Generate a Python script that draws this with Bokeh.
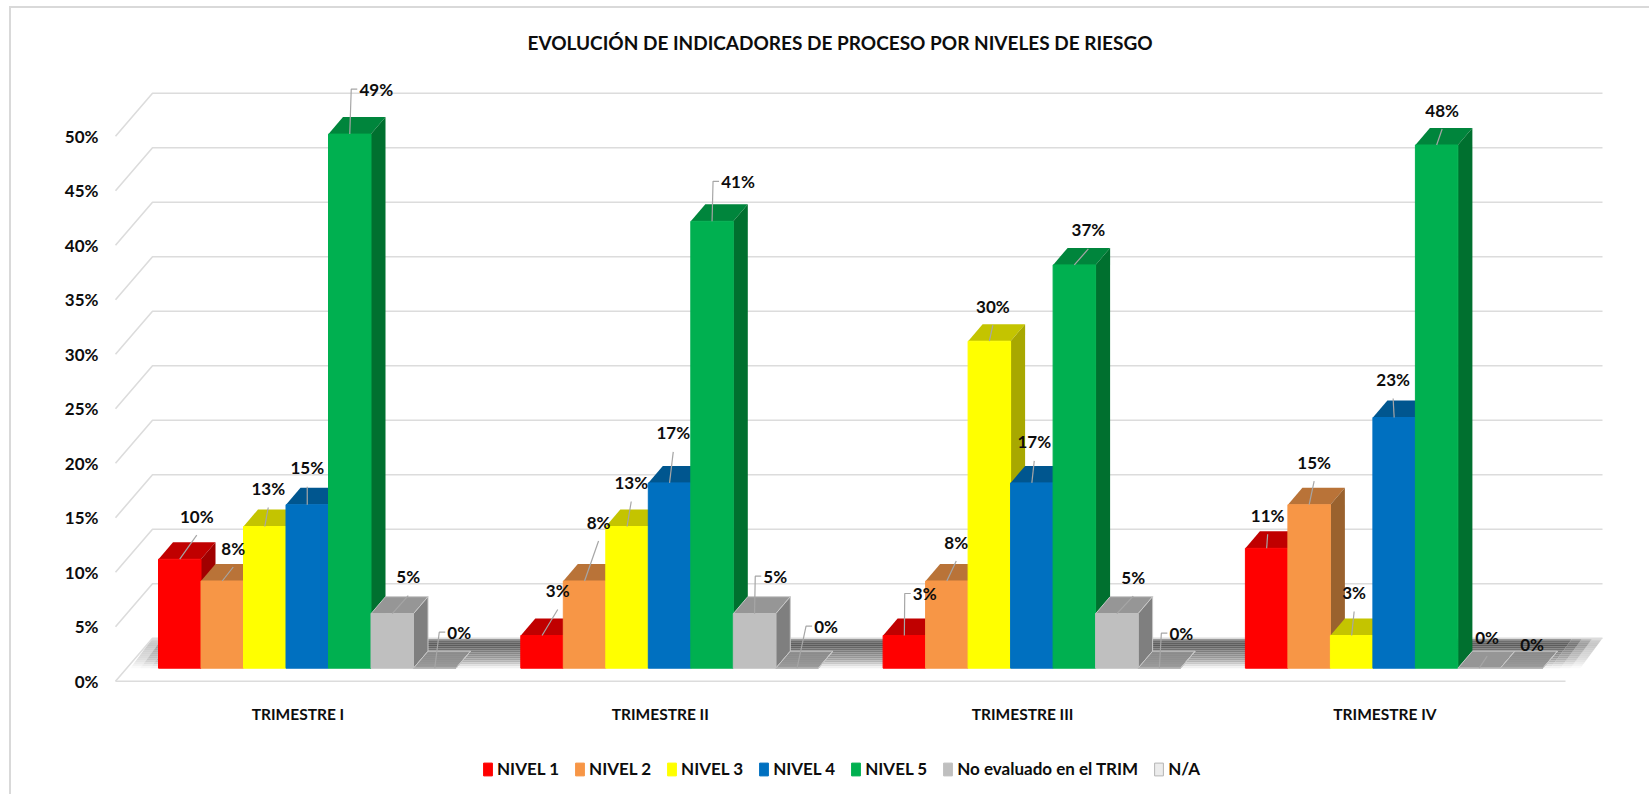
from bokeh.plotting import figure
from bokeh.embed import file_html
from bokeh.resources import INLINE
from bokeh.models import (ColumnDataSource, FixedTicker, Legend, LegendItem, Title)
from bokeh.core.properties import value

# ---- data ----
TRIMESTRES = ["TRIMESTRE I", "TRIMESTRE II", "TRIMESTRE III", "TRIMESTRE IV"]
NIVEL_1 = [10, 3, 3, 11]
NIVEL_2 = [8, 8, 8, 15]
NIVEL_3 = [13, 13, 30, 3]
NIVEL_4 = [15, 17, 17, 23]
NIVEL_5 = [49, 41, 37, 48]
NO_EVALUADO = [5, 5, 5, 0]
NA = [0, 0, 0, 0]
SERIES_NAMES = ["NIVEL 1", "NIVEL 2", "NIVEL 3", "NIVEL 4", "NIVEL 5", "No evaluado en el TRIM", "N/A"]
SERIES = [NIVEL_1, NIVEL_2, NIVEL_3, NIVEL_4, NIVEL_5, NO_EVALUADO, NA]
Y_TICKS = [0, 5, 10, 15, 20, 25, 30, 35, 40, 45, 50]
TITLE = "EVOLUCIÓN DE INDICADORES DE PROCESO POR NIVELES DE RIESGO"

# ---- styles ----
FRONT = ["#ff0000", "#f79646", "#ffff00", "#0070c0", "#00b050", "#bfbfbf", "#ececec"]
TOPC = ["#c00000", "#b97338", "#c4c400", "#00568f", "#00853c", "#969696", "#8c8c8c"]
SIDE = ["#a00000", "#9a622e", "#a8a800", "#004a7c", "#00702f", "#7f7f7f", "#7f7f7f"]
FONT = "Lato"
GRID = "#dcdcdc"
LEADER = "#a6a6a6"

# pixel scale of the chart: one group = PX_X pixels, one percent = PX_Y pixels
PX_X, PX_Y = 362.3, 10.9
BAR_W = 42.5 / PX_X
DEPTH_X, DEPTH_Y = 14.5 / PX_X, 17 / PX_Y
BASE = 13 / PX_Y
WALL_X, WALL_Y = 37 / PX_X, 43 / PX_Y
LEFT_FRONT = -43 / PX_X
RIGHT_BACK = 1602 / PX_X - 158 / PX_X
RIGHT_FRONT = 1565 / PX_X - 158 / PX_X

# label offsets in pixels from the bar's top-front centre, per group
LABEL_OFFSETS = [
    [(17, -43), (11, -33), (3.5, -38), (0, -37), (26.5, -45), (16, -37), (24.5, -36)],
    [(15.7, -45), (14, -59), (4.2, -44), (3.7, -50), (26, -40), (20.7, -37.5), (29, -42)],
    [(20.4, -42), (9.4, -39), (3.5, -35), (2.4, -41), (14, -35), (16.4, -36.5), (22, -35)],
    [(1, -33), (5, -42.5), (2.5, -43), (-1, -38), (5.5, -35), (8, -31), (10.5, -24)],
]
ELBOW = {(0, 4), (0, 6), (1, 4), (1, 5), (1, 6), (2, 0), (2, 6)}
NO_LEADER = {(3, 6)}

# figure margin plus a 2px CSS edge (left and top only, as in the chart's frame)
M_L, M_T = 9, 6
C_L, C_T = M_L + 2, M_T + 2
W, H = 1640, 788
FRAME_L, FRAME_T, FRAME_B = 107, 60, 788
Y_ZERO = 680.7

p = figure(width=W, height=H, output_backend="svg", toolbar_location=None,
           x_range=((FRAME_L - 158) / PX_X, (C_L + W - 158) / PX_X),
           y_range=((Y_ZERO - FRAME_B) / PX_Y, (Y_ZERO - FRAME_T) / PX_Y),
           min_border_left=FRAME_L - C_L, min_border_right=0, min_border_top=FRAME_T - C_T,
           min_border_bottom=C_T + H - FRAME_B,
           margin=(M_T, 0, 0, M_L),
           styles={"border-left": "2px solid #d9d9d9", "border-top": "2px solid #d9d9d9"},
           background_fill_color="white", border_fill_color="white", outline_line_color=None)
p.grid.visible = False

# axes
p.yaxis.ticker = FixedTicker(ticks=Y_TICKS)
p.yaxis.major_label_overrides = {t: f"{t}%" for t in Y_TICKS}
p.yaxis.axis_line_color = None
p.yaxis.major_tick_line_color = None
p.yaxis.minor_tick_line_color = None
p.yaxis.major_label_standoff = 3
p.yaxis.major_label_text_font = FONT
p.yaxis.major_label_text_font_style = "bold"
p.yaxis.major_label_text_font_size = "17px"
p.yaxis.major_label_text_color = "#0d0d0d"

tick_pos = [g + 0.385 for g in range(len(TRIMESTRES))]
p.xaxis.ticker = FixedTicker(ticks=tick_pos)
p.xaxis.major_label_overrides = dict(zip(tick_pos, TRIMESTRES))
p.xaxis.axis_line_color = None
p.xaxis.major_tick_line_color = None
p.xaxis.minor_tick_line_color = None
p.xaxis.major_label_standoff = -90
p.xaxis.major_label_text_font = FONT
p.xaxis.major_label_text_font_style = "bold"
p.xaxis.major_label_text_font_size = "15.5px"
p.xaxis.major_label_text_color = "#0d0d0d"

# title
p.title = Title(text=TITLE, align="left", offset=420, standoff=14,
                text_font=FONT, text_font_style="bold", text_font_size="19px", text_color="#0d0d0d")

# floor band: rows of grey running from the back edge forward
FLOOR_SHADES = ["#999999", "#6e6e6e", "#606060", "#5c5c5c", "#666666", "#727272", "#7e7e7e", "#888888",
                "#909090", "#989898", "#a4a4a4", "#b4b4b4", "#c8c8c8", "#dedede", "#f0f0f0"]
FADE = [0.35, 0.6, 0.85]
ROW = 2.0 / PX_Y
SLANT = (20 / PX_X) / (27 / PX_Y)
x_back_l = WALL_X + LEFT_FRONT
xs_f, ys_f, cs_f, as_f = [], [], [], []
for r, shade in enumerate(FLOOR_SHADES):
    y1 = WALL_Y - r * ROW
    y0 = y1 - ROW
    s1 = (WALL_Y - y1) * SLANT
    s0 = (WALL_Y - y0) * SLANT
    l1, rr1 = x_back_l - s1, RIGHT_BACK - s1
    l0, rr0 = x_back_l - s0, RIGHT_BACK - s0
    seg = 10 / PX_X
    n = len(FADE)
    xs_f.append([l0 + n * seg, rr0 - n * seg, rr1 - n * seg, l1 + n * seg])
    ys_f.append([y0, y0, y1, y1]); cs_f.append(shade); as_f.append(1.0)
    for i, a in enumerate(FADE):
        xs_f.append([l0 + i * seg, l0 + (i + 1) * seg, l1 + (i + 1) * seg, l1 + i * seg])
        ys_f.append([y0, y0, y1, y1]); cs_f.append(shade); as_f.append(a)
        xs_f.append([rr0 - (i + 1) * seg, rr0 - i * seg, rr1 - i * seg, rr1 - (i + 1) * seg])
        ys_f.append([y0, y0, y1, y1]); cs_f.append(shade); as_f.append(a)
p.patches(xs_f, ys_f, fill_color=cs_f, fill_alpha=as_f, line_color=None)

# grid: front wall corner, then along the back wall
gx = [[LEFT_FRONT, LEFT_FRONT + WALL_X, RIGHT_BACK] for t in Y_TICKS]
gy = [[t, t + WALL_Y, t + WALL_Y] for t in Y_TICKS]
gx.append([LEFT_FRONT, RIGHT_FRONT]); gy.append([0, 0])
p.multi_line(gx, gy, line_color=GRID, line_width=1.6)

# bars, series by series so that each covers the side of the one before it
renderers = []
for s, vals in enumerate(SERIES):
    xc = [g + (s + 0.5) * BAR_W for g in range(len(vals))]
    tops = [BASE + v for v in vals]
    lx, rx = [c - BAR_W / 2 for c in xc], [c + BAR_W / 2 for c in xc]
    xs_top = [[a, b, b + DEPTH_X, a + DEPTH_X] for a, b in zip(lx, rx)]
    ys_top = [[t, t, t + DEPTH_Y, t + DEPTH_Y] for t in tops]
    edge = "#c8c8c8" if s >= 5 else None
    p.patches(xs_top, ys_top, fill_color=TOPC[s], fill_alpha=0.85 if s == 6 else 1,
              line_color=edge, line_width=1)
    xs_side = [[b, b + DEPTH_X, b + DEPTH_X, b] for b in rx]
    ys_side = [[BASE, BASE + DEPTH_Y, t + DEPTH_Y, t] for t in tops]
    p.patches(xs_side, ys_side, fill_color=SIDE[s], line_color=edge, line_width=1)
    r = p.vbar(x=xc, width=BAR_W, bottom=BASE, top=tops, fill_color=FRONT[s],
               line_color="#b5b5b5" if s == 6 else FRONT[s], line_width=1)
    renderers.append(r)

# data labels + leaders
lab_x, lab_y, lab_t, off_x, off_y = [], [], [], [], []
lead_x, lead_y = [], []
for g in range(len(TRIMESTRES)):
    for s, vals in enumerate(SERIES):
        v = vals[g]
        xc = g + (s + 0.5) * BAR_W
        top = BASE + v
        dx, dy = LABEL_OFFSETS[g][s]
        lab_x.append(xc); lab_y.append(top); lab_t.append(f"{v}%")
        off_x.append(dx); off_y.append(dy)
        if (g, s) in NO_LEADER:
            continue
        ux, uy = dx / PX_X, -dy / PX_Y
        if (g, s) in ELBOW:
            hw = (16 if v >= 10 else 11) + 3
            lead_x.append([xc, xc + ux - (hw + 6) / PX_X, xc + ux - hw / PX_X])
            lead_y.append([top, top + uy, top + uy])
        else:
            lead_x.append([xc, xc + ux])
            lead_y.append([top, top + uy - 19 / PX_Y])
p.multi_line(lead_x, lead_y, line_color=LEADER, line_width=1.2)
src = ColumnDataSource(dict(x=lab_x, y=lab_y, t=lab_t, ox=off_x, oy=off_y))
p.text("x", "y", text="t", x_offset="ox", y_offset="oy", source=src, text_align="center",
       text_baseline="middle", text_font=value(FONT), text_font_style="bold",
       text_font_size="17px", text_color="#0d0d0d")

# legend
legend = Legend(items=[LegendItem(label=n, renderers=[r]) for n, r in zip(SERIES_NAMES, renderers)],
                orientation="horizontal", location=(482 - FRAME_L, FRAME_B - 779),
                glyph_width=11, glyph_height=16, label_standoff=4, spacing=15, padding=0, margin=0,
                border_line_color=None, background_fill_alpha=0,
                label_text_font=FONT, label_text_font_style="bold", label_text_font_size="17px",
                label_text_color="#0d0d0d", label_height=16)
p.add_layout(legend, "center")

open("out.html", "w").write(file_html(p, INLINE))
